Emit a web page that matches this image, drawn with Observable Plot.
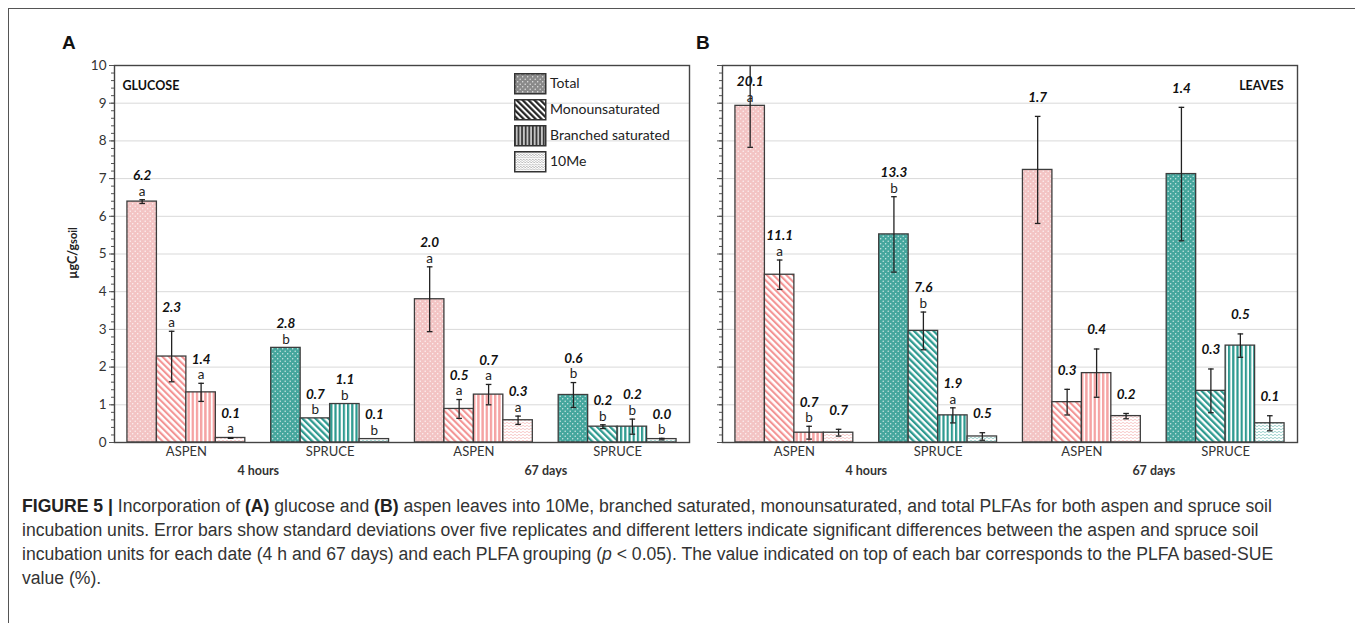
<!DOCTYPE html>
<html>
<head>
<meta charset="utf-8">
<script src="https://cdn.jsdelivr.net/npm/d3@7"></script>
<script src="https://cdn.jsdelivr.net/npm/@observablehq/plot@0.6"></script>
<style>
  body { margin: 0; background: #fff; }
  #root { position: relative; width: 1355px; height: 623px; overflow: hidden; font-family: Lato, "Open Sans", sans-serif; color: #222; }
  .box { position: absolute; left: 8px; top: 8px; width: 1500px; height: 800px; border-left: 1.5px solid #555; border-top: 1.5px solid #555; }
  .panel { position: absolute; }
  .tagletter { position: absolute; font-family: "Liberation Sans", Arial, sans-serif; font-weight: bold; font-size: 19px; line-height: 1; color: #111; }
  .ylab { position: absolute; font-weight: bold; font-size: 12.5px; white-space: nowrap; transform: translate(-50%, -50%) rotate(-90deg); color: #222; }
  .legend { position: absolute; left: 514px; top: 73px; font-size: 14px; color: #222; }
  .legend .row { height: 26px; display: flex; align-items: flex-start; }
  .legend svg { display: block; margin-right: 3px; }
  .caption { position: absolute; left: 22px; top: 494px; font-family: "Liberation Sans", Arial, sans-serif; font-size: 17.6px; line-height: 24px; color: #333; white-space: nowrap; }
  .caption b { color: #222; }
</style>
</head>
<body>
<svg width="0" height="0" style="position:absolute">
  <defs>
    <pattern id="pat-ASPEN-0" width="5" height="5" patternUnits="userSpaceOnUse">
      <rect width="5" height="5" fill="#f3c4c4"/>
      <circle cx="1.2" cy="1.2" r="0.7" fill="#fff" opacity="0.85"/>
      <circle cx="3.7" cy="3.7" r="0.7" fill="#fff" opacity="0.85"/>
    </pattern>
    <pattern id="pat-SPRUCE-0" width="5" height="5" patternUnits="userSpaceOnUse">
      <rect width="5" height="5" fill="#45a69d"/>
      <circle cx="1.2" cy="1.2" r="0.7" fill="#fff" opacity="0.8"/>
      <circle cx="3.7" cy="3.7" r="0.7" fill="#fff" opacity="0.8"/>
    </pattern>
    <pattern id="pat-ASPEN-1" width="4.6" height="4.6" patternUnits="userSpaceOnUse" patternTransform="rotate(-45)">
      <rect width="4.6" height="4.6" fill="#fff"/>
      <rect width="2.1" height="4.6" fill="#f39494"/>
    </pattern>
    <pattern id="pat-SPRUCE-1" width="4.6" height="4.6" patternUnits="userSpaceOnUse" patternTransform="rotate(-45)">
      <rect width="4.6" height="4.6" fill="#fff"/>
      <rect width="2.3" height="4.6" fill="#2e9a90"/>
    </pattern>
    <pattern id="pat-ASPEN-2" width="4.2" height="4" patternUnits="userSpaceOnUse">
      <rect width="4.2" height="4" fill="#fff"/>
      <rect width="2.4" height="4" fill="#f5a3a3"/>
    </pattern>
    <pattern id="pat-SPRUCE-2" width="4.2" height="4" patternUnits="userSpaceOnUse">
      <rect width="4.2" height="4" fill="#fff"/>
      <rect width="2.2" height="4" fill="#2e9a90"/>
    </pattern>
    <pattern id="pat-ASPEN-3" width="4" height="3" patternUnits="userSpaceOnUse">
      <rect width="4" height="3" fill="#fff"/>
      <path d="M0 2 Q1 0.6 2 2 T4 2" fill="none" stroke="#f3b3b3" stroke-width="0.7"/>
    </pattern>
    <pattern id="pat-SPRUCE-3" width="4" height="3" patternUnits="userSpaceOnUse">
      <rect width="4" height="3" fill="#fff"/>
      <path d="M0 2 Q1 0.6 2 2 T4 2" fill="none" stroke="#73bdb6" stroke-width="0.7"/>
    </pattern>
    <pattern id="leg-0" width="5" height="5" patternUnits="userSpaceOnUse">
      <rect width="5" height="5" fill="#8a8a8a"/>
      <circle cx="1.2" cy="1.2" r="0.7" fill="#fff" opacity="0.8"/>
      <circle cx="3.7" cy="3.7" r="0.7" fill="#fff" opacity="0.8"/>
    </pattern>
    <pattern id="leg-1" width="4.2" height="4.2" patternUnits="userSpaceOnUse" patternTransform="rotate(-45)">
      <rect width="4.2" height="4.2" fill="#fff"/>
      <rect width="2.2" height="4.2" fill="#222"/>
    </pattern>
    <pattern id="leg-2" width="3.6" height="4" patternUnits="userSpaceOnUse">
      <rect width="3.6" height="4" fill="#c4c4c4"/>
      <rect width="1.7" height="4" fill="#333"/>
    </pattern>
    <pattern id="leg-3" width="3" height="2.4" patternUnits="userSpaceOnUse">
      <rect width="3" height="2.4" fill="#fff"/>
      <path d="M0 1.6 Q0.75 0.5 1.5 1.6 T3 1.6" fill="none" stroke="#777" stroke-width="0.6"/>
    </pattern>
  </defs>
</svg>

<div id="root">
  <div class="box"></div>
  <div class="tagletter" style="left:62px; top:33px;">A</div>
  <div class="tagletter" style="left:696px; top:33px;">B</div>
  <div class="ylab" style="left:72px; top:253px;">µgC/g<span style="font-size:11px">soil</span></div>
  <div id="panelA" class="panel" style="left:74px; top:55px;"></div>
  <div id="panelB" class="panel" style="left:682px; top:55px;"></div>
  <div id="legend" class="legend"></div>
  <div class="caption">
    <b>FIGURE 5 |</b> Incorporation of <b>(A)</b> glucose and <b>(B)</b> aspen leaves into 10Me, branched saturated, monounsaturated, and total PLFAs for both aspen and spruce soil<br>
    incubation units. Error bars show standard deviations over five replicates and different letters indicate significant differences between the aspen and spruce soil<br>
    incubation units for each date (4 h and 67 days) and each PLFA grouping (<i>p</i> &lt; 0.05). The value indicated on top of each bar corresponds to the PLFA based-SUE<br>
    value (%).
  </div>
</div>

<script>
// ---------- data ----------
const sites = ["ASPEN", "SPRUCE", "ASPEN", "SPRUCE"];
const times = ["4 hours", "67 days"];
const series = ["Total", "Monounsaturated", "Branched saturated", "10Me"];
const yTicks = [0, 1, 2, 3, 4, 5, 6, 7, 8, 9, 10];

// Panel A: glucose (µgC/gsoil), rows = site/time group, columns = series
const glucoseMean = [
  [6.39, 2.28, 1.33, 0.12],
  [2.51, 0.64, 1.02, 0.09],
  [3.80, 0.89, 1.27, 0.59],
  [1.26, 0.42, 0.42, 0.09]
];
const glucoseSD = [
  [0.05, 0.67, 0.24, 0.01],
  [0, 0, 0, 0],
  [0.86, 0.25, 0.27, 0.11],
  [0.33, 0.05, 0.20, 0.02]
];
const glucoseSUE = [
  ["6.2", "2.3", "1.4", "0.1"],
  ["2.8", "0.7", "1.1", "0.1"],
  ["2.0", "0.5", "0.7", "0.3"],
  ["0.6", "0.2", "0.2", "0.0"]
];
const glucoseLetters = [
  ["a", "a", "a", "a"],
  ["b", "b", "b", "b"],
  ["a", "a", "a", "a"],
  ["b", "b", "b", "b"]
];

// Panel B: leaves
const leavesMean = [
  [8.93, 4.45, 0.26, 0.26],
  [5.52, 2.96, 0.72, 0.16],
  [7.23, 1.07, 1.84, 0.70],
  [7.12, 1.37, 2.57, 0.51]
];
const leavesSD = [
  [1.10, 0.39, 0.17, 0.09],
  [1.00, 0.50, 0.20, 0.10],
  [1.42, 0.34, 0.64, 0.07],
  [1.77, 0.58, 0.31, 0.20]
];
const leavesSUE = [
  ["20.1", "11.1", "0.7", "0.7"],
  ["13.3", "7.6", "1.9", "0.5"],
  ["1.7", "0.3", "0.4", "0.2"],
  ["1.4", "0.3", "0.5", "0.1"]
];
const leavesLetters = [
  ["a", "a", "b", ""],
  ["b", "b", "a", ""],
  ["", "", "", ""],
  ["", "", "", ""]
];

// ---------- layout constants (not data) ----------
const groupPad = 0.09;   // fraction of a group slot left empty on each side
const barW = 0.205;      // fraction of a group slot per bar
const yMax = 10;

const capSymbol = {
  draw(ctx, size) {
    const w = Math.sqrt(size / Math.PI);
    ctx.moveTo(-w, 0);
    ctx.lineTo(w, 0);
  }
};

function buildRows(mean, sd, sue, letters) {
  const rows = [];
  sites.forEach((site, gi) => {
    series.forEach((s, si) => {
      const x1 = gi + groupPad + si * barW;
      const v = mean[gi][si], e = sd[gi][si];
      rows.push({
        gi, si, site, series: s,
        value: v, sd: e, sue: sue[gi][si], letter: letters[gi][si],
        x1, x2: x1 + barW, xc: x1 + barW / 2,
        lo: v - e, hi: v + e,
        anchor: (v + e > yMax) ? v : v + e
      });
    });
  });
  return rows;
}

function panel(rows, tag, tagRight, showYLabels) {
  const marks = [
    Plot.gridY(yTicks.filter(d => d > 0 && d < yMax), {stroke: "#d9d9d9", strokeOpacity: 1, strokeWidth: 1})
  ];
  for (const site of ["ASPEN", "SPRUCE"]) {
    series.forEach((s, si) => {
      marks.push(Plot.rect(rows, {
        filter: r => r.site === site && r.si === si,
        x1: "x1", x2: "x2", y1: () => 0, y2: "value",
        fill: `url(#pat-${site}-${si})`,
        stroke: "#3d3d3d", strokeWidth: 1.3
      }));
    });
  }
  const withErr = r => r.sd > 0;
  marks.push(
    Plot.ruleX(rows, {filter: withErr, x: "xc", y1: "lo", y2: "hi", stroke: "#222", strokeWidth: 1.3, clip: true}),
    Plot.dot(rows, {filter: withErr, x: "xc", y: "hi", symbol: capSymbol, r: 2.8, fill: "none", stroke: "#222", strokeWidth: 1.3, clip: true}),
    Plot.dot(rows, {filter: withErr, x: "xc", y: "lo", symbol: capSymbol, r: 2.8, fill: "none", stroke: "#222", strokeWidth: 1.3, clip: true}),
    Plot.text(rows, {filter: r => r.letter, x: "xc", y: "anchor", text: "letter", dy: -8.5, fontSize: 13.5, fill: "#222"}),
    Plot.text(rows, {filter: r => r.letter, x: "xc", y: "anchor", text: "sue", dy: -24, fontSize: 13.5, fontWeight: "bold", fontStyle: "italic", fill: "#111"}),
    Plot.text(rows, {filter: r => !r.letter, x: "xc", y: "anchor", text: "sue", dy: -19, fontSize: 13.5, fontWeight: "bold", fontStyle: "italic", fill: "#111"}),
    Plot.text([tag], {frameAnchor: tagRight ? "top-right" : "top-left", dx: tagRight ? -14 : 8, dy: 16, fontSize: 12.5, fontWeight: "bold", fill: "#111"}),
    Plot.axisY({ticks: d3.range(0, 50).map(i => i / 5), tickSize: 3, tickFormat: () => "", label: null, stroke: "#555"}),
    Plot.axisY({ticks: yTicks, tickSize: 5, tickPadding: 3, tickFormat: showYLabels ? d => String(d) : () => "", label: null, fontSize: 13.5, stroke: "#555"}),
    Plot.axisX({ticks: sites.map((_, i) => i + 0.5), tickFormat: d => sites[Math.floor(d)], tickSize: 0, tickPadding: 4, label: null, fontSize: 13}),
    Plot.axisX({ticks: times.map((_, i) => 2 * i + 1), tickFormat: d => times[Math.floor(d / 2)], tickSize: 0, tickPadding: 24, label: null, fontSize: 12.5, fontWeight: "bold"}),
    Plot.frame({stroke: "#444", strokeWidth: 1.4})
  );
  return Plot.plot({
    width: 625,
    height: 437,
    marginLeft: 40,
    marginRight: 10,
    marginTop: 10,
    marginBottom: 50,
    x: {type: "linear", domain: [0, sites.length], label: null},
    y: {domain: [0, yMax], label: null},
    style: {fontFamily: "Lato, 'Open Sans', sans-serif", fontSize: "12.5px", color: "#333", background: "transparent", overflow: "visible"},
    marks
  });
}

const rowsA = buildRows(glucoseMean, glucoseSD, glucoseSUE, glucoseLetters);
const rowsB = buildRows(leavesMean, leavesSD, leavesSUE, leavesLetters);
document.getElementById("panelA").append(panel(rowsA, "GLUCOSE", false, true));
document.getElementById("panelB").append(panel(rowsB, "LEAVES", true, false));

// legend
const legend = document.getElementById("legend");
series.forEach((s, si) => {
  const row = document.createElement("div");
  row.className = "row";
  row.innerHTML = `<svg width="33" height="22"><rect x="0.75" y="0.75" width="31" height="20" fill="url(#leg-${si})" stroke="#333" stroke-width="1.5"/></svg><span style="line-height:20px">${s}</span>`;
  legend.append(row);
});
</script>
</body>
</html>
